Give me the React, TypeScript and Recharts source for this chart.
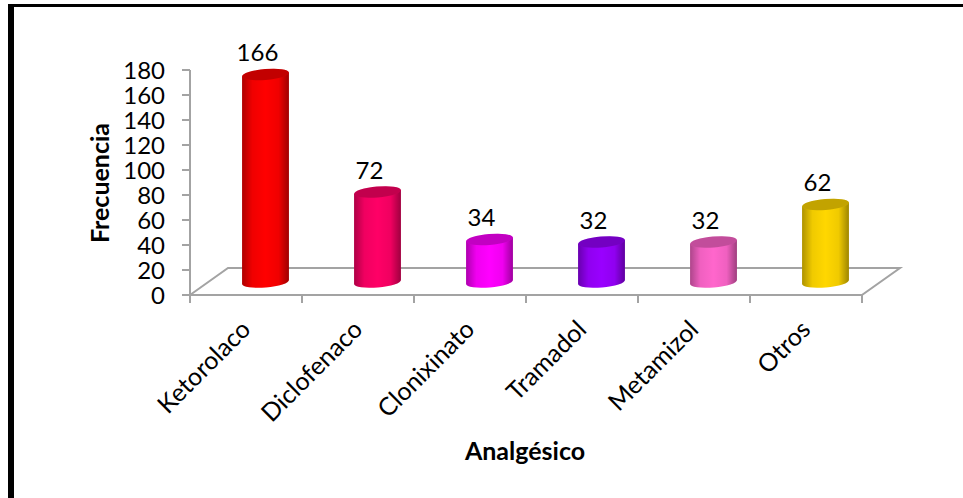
import { Bar, BarChart, XAxis, YAxis } from "recharts";

const categories = ["Ketorolaco", "Diclofenaco", "Clonixinato", "Tramadol", "Metamizol", "Otros"];
const frequencies = [166, 72, 34, 32, 32, 62];
const barColors = ["#ff0000", "#ff0066", "#ff00ff", "#9900ff", "#ff66cc", "#ffd700"];
const yTicks = [0, 20, 40, 60, 80, 100, 120, 140, 160, 180];

const rows = categories.map((name, i) => ({ name, value: frequencies[i] }));

const FONT = "Lato, sans-serif";
const GRID = "#a3a3a3";

// plot box of the front face, the floor is skewed back from it
const LEFT = 190;
const TOP = 70;
const RIGHT = 862;
const BOTTOM = 295;
const DEPTH_X = 38;
const DEPTH_Y = 27;
const BAND = (RIGHT - LEFT) / categories.length;

// cylinder ellipse tilt
const TILT = 5;
const RY = 5.5;

function Cylinder(props: any) {
  const { x, y, width, height, index } = props;
  const cx = x + width / 2 + DEPTH_X / 2;
  const yTop = y - DEPTH_Y / 2 + 0.5;
  const yBase = y + height - DEPTH_Y / 2 + 0.5;
  const rx = width / 2;
  const rad = (TILT * Math.PI) / 180;
  const dx = rx * Math.cos(rad);
  const dy = rx * Math.sin(rad);
  const body =
    `M${cx - dx} ${yTop + dy} L${cx - dx} ${yBase + dy} ` +
    `A${rx} ${RY} ${-TILT} 0 0 ${cx + dx} ${yBase - dy} ` +
    `L${cx + dx} ${yTop - dy} Z`;
  const lid = { cx, cy: yTop, rx, ry: RY, transform: `rotate(${-TILT} ${cx} ${yTop})` };
  return (
    <g>
      <path d={body} fill={barColors[index]} />
      <path d={body} fill="url(#cylinderShade)" />
      <ellipse {...lid} fill={barColors[index]} />
      <ellipse {...lid} fill="#000" fillOpacity={0.24} />
    </g>
  );
}

function ValueLabel(props: any) {
  const { x, y, width, value } = props;
  return (
    <text x={x + width / 2 + 11} y={y - 36} textAnchor="middle" dominantBaseline="central"
      fontFamily={FONT} fontSize={24} fill="#000">
      {value}
    </text>
  );
}

function CategoryTick(props: any) {
  const { x, y, payload } = props;
  return (
    <g>
      <line x1={x - BAND / 2} x2={x - BAND / 2} y1={BOTTOM} y2={BOTTOM + 8} stroke={GRID} strokeWidth={2} />
      <text x={x + 6} y={y + 28} textAnchor="end" transform={`rotate(-45 ${x + 6} ${y + 28})`}
        fontFamily={FONT} fontSize={25} fill="#000">
        {payload.value}
      </text>
    </g>
  );
}

function Floor() {
  return (
    <polyline
      points={`${LEFT},${BOTTOM} ${LEFT + DEPTH_X},${BOTTOM - DEPTH_Y} ${RIGHT + DEPTH_X},${BOTTOM - DEPTH_Y} ${RIGHT},${BOTTOM} ${RIGHT},${BOTTOM + 8}`}
      fill="none"
      stroke={GRID}
      strokeWidth={2}
    />
  );
}

export default function App() {
  return (
    <div style={{ position: "absolute", left: 0, top: 0, width: 963, height: 498, background: "#fff", overflow: "hidden" }}>
      <div style={{ position: "absolute", left: 8, top: 4, right: 0, height: 3, background: "#000" }} />
      <div style={{ position: "absolute", left: 8, top: 4, bottom: 0, width: 6, background: "#000" }} />
      <BarChart
        width={963}
        height={498}
        data={rows}
        barSize={47}
        margin={{ left: 120, top: TOP, right: 963 - RIGHT, bottom: 133 }}
      >
        <defs>
          <linearGradient id="cylinderShade" x1="0" x2="1" y1="0" y2="0">
            <stop offset="0%" stopColor="#000" stopOpacity={0.32} />
            <stop offset="22%" stopColor="#000" stopOpacity={0.06} />
            <stop offset="50%" stopColor="#000" stopOpacity={0} />
            <stop offset="78%" stopColor="#000" stopOpacity={0.06} />
            <stop offset="100%" stopColor="#000" stopOpacity={0.38} />
          </linearGradient>
        </defs>
        <Floor />
        <XAxis
          dataKey="name"
          height={70}
          interval={0}
          axisLine={{ stroke: GRID, strokeWidth: 2 }}
          tickLine={false}
          tick={<CategoryTick />}
        />
        <YAxis
          width={70}
          domain={[0, 180]}
          ticks={yTicks}
          interval={0}
          axisLine={{ stroke: GRID, strokeWidth: 2 }}
          tickLine={{ stroke: GRID, strokeWidth: 2 }}
          tickSize={8}
          tickMargin={17}
          tick={{ fontFamily: FONT, fontSize: 24, fill: "#000" }}
        />
        <Bar dataKey="value" isAnimationActive={false} shape={<Cylinder />} label={<ValueLabel />} />
        <text x={109} y={183} textAnchor="middle" transform="rotate(-90 109 183)"
          fontFamily={FONT} fontSize={25} fontWeight={700} fill="#000">
          Frecuencia
        </text>
        <text x={525} y={460} textAnchor="middle" fontFamily={FONT} fontSize={25} fontWeight={700} fill="#000">
          Analgésico
        </text>
      </BarChart>
    </div>
  );
}
